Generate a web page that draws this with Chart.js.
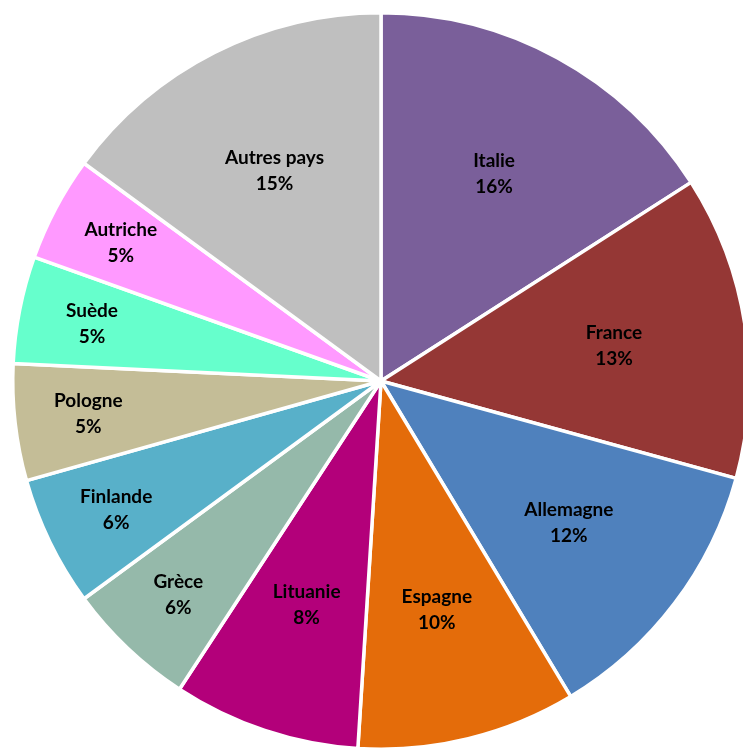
<!DOCTYPE html>
<html>
<head>
<meta charset="utf-8">
<script src="https://cdn.jsdelivr.net/npm/chart.js@4/dist/chart.umd.min.js"></script>
<style>
  html, body { margin: 0; padding: 0; background: #fff; overflow: hidden; }
  #wrap { width: 762px; height: 762px; }
</style>
</head>
<body>
<div id="wrap"><canvas id="pays"></canvas></div>
<script>
var pays = ['Italie', 'France', 'Allemagne', 'Espagne', 'Lituanie', 'Grèce',
            'Finlande', 'Pologne', 'Suède', 'Autriche', 'Autres pays'];
var parts = [15.9, 13.3, 12.1, 9.6, 8.2, 5.7, 5.7, 5.1, 4.7, 4.6, 14.9];
var couleurs = ['#7a5f9a', '#953735', '#4f81bd', '#e46c0a', '#b3007a', '#95b9aa',
                '#58b0c9', '#c4bd97', '#66ffcc', '#ff99ff', '#bfbfbf'];

// nom + pourcentage écrits dans chaque part
var etiquettes = {
    id: 'etiquettes',
    afterDatasetsDraw: function (chart) {
        var ctx = chart.ctx;
        var total = parts.reduce(function (a, b) { return a + b; }, 0);
        ctx.save();
        ctx.fillStyle = '#000';
        ctx.font = 'bold 19px Lato, "Open Sans", sans-serif';
        ctx.textAlign = 'center';
        ctx.textBaseline = 'middle';
        chart.getDatasetMeta(0).data.forEach(function (arc, i) {
            var mid = (arc.startAngle + arc.endAngle) / 2;
            var ouverture = arc.endAngle - arc.startAngle;
            var r = arc.outerRadius * (ouverture > 0.45 ? 0.64 : 0.8);
            var x = arc.x + Math.cos(mid) * r;
            var y = arc.y + Math.sin(mid) * r;
            ctx.fillText(pays[i], x, y - 13);
            ctx.fillText(Math.round(parts[i] / total * 100) + '%', x, y + 13);
        });
        ctx.restore();
    }
};

new Chart(document.getElementById('pays'), {
    type: 'pie',
    data: {
        labels: pays,
        datasets: [{
            data: parts,
            backgroundColor: couleurs,
            borderColor: '#fff',
            borderWidth: 3.5
        }]
    },
    options: {
        responsive: true,
        maintainAspectRatio: false,
        animation: false,
        layout: { padding: 11 },
        plugins: {
            legend: { display: false },
            tooltip: { enabled: false }
        }
    },
    plugins: [etiquettes]
});
</script>
</body>
</html>
